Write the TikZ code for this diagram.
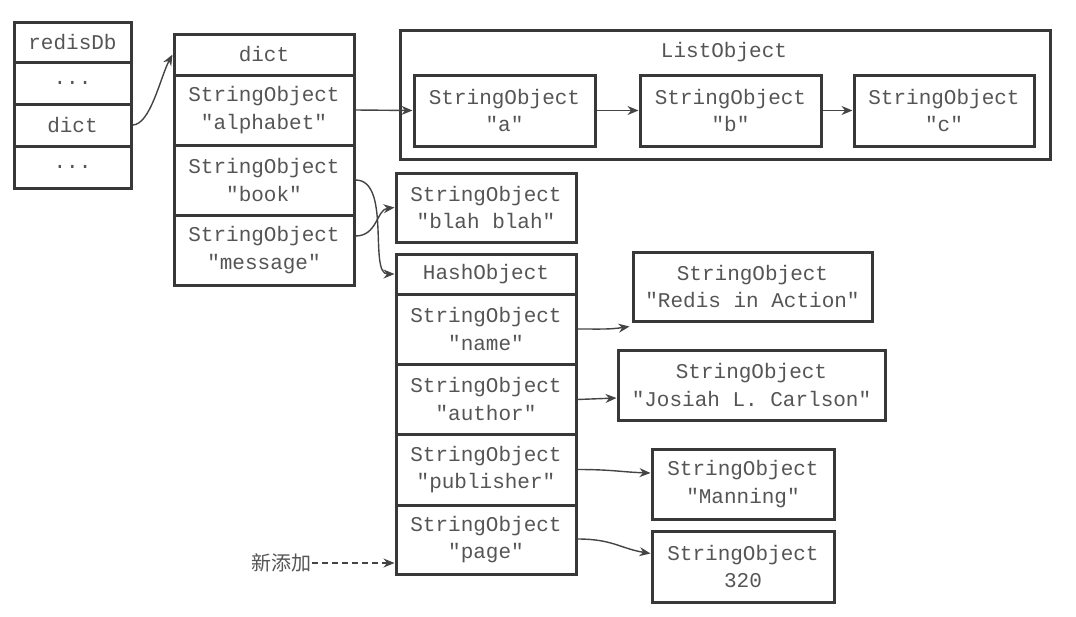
\documentclass[tikz,border=0pt]{standalone}
\usepackage{fontspec}
\newfontfamily\monof{Liberation Mono}
\newfontfamily\cjk{Noto Sans CJK SC}
\usetikzlibrary{arrows.meta,calc}
\definecolor{frame}{HTML}{383838}
\definecolor{txt}{HTML}{555555}
\definecolor{arr}{HTML}{444444}
\tikzset{
  cell/.style={draw=frame, line width=3pt, rectangle, inner sep=0pt, align=center,
    text=txt, font=\monof\fontsize{21}{27.5}\selectfont},
  conn/.style={draw=arr, line width=1.4pt, -{Stealth[length=11pt,width=9pt]}},
}
\newcommand{\cellbox}[6]{% name, x1, y1, x2, y2, text
  \node[cell, minimum width={#4-#2}, minimum height={#5-#3}] (#1) at ({(#2+#4)/2},{(#3+#5)/2}) {#6};}
\begin{document}
\begin{tikzpicture}[x=1pt,y=-1pt]
\useasboundingbox (0,0) rectangle (1076,616);
% redisDb
\cellbox{rd0}{14}{22}{131}{62}{redisDb}
\cellbox{rd1}{14}{62}{131}{104}{...}
\cellbox{rd2}{14}{104}{131}{146}{dict}
\cellbox{rd3}{14}{146}{131}{188}{...}
% dict
\cellbox{dh}{174}{34}{354}{75}{dict}
\cellbox{dalpha}{174}{75}{354}{145}{StringObject\\"alphabet"}
\cellbox{dbook}{174}{145}{354}{215}{StringObject\\"book"}
\cellbox{dmsg}{174}{215}{354}{285}{StringObject\\"message"}
% ListObject
\node[draw=frame, line width=3pt, minimum width=650pt, minimum height=129pt, inner sep=0pt] (list) at (725,94.5) {};
\node[text=txt, font=\monof\fontsize{21}{27.5}\selectfont] (listlbl) at (724,52) {ListObject};
\cellbox{la}{414}{75}{595}{146}{StringObject\\"a"}
\cellbox{lb}{640}{75}{821}{146}{StringObject\\"b"}
\cellbox{lc}{854}{75}{1034}{146}{StringObject\\"c"}
% blah
\cellbox{blah}{396}{173}{576}{242}{StringObject\\"blah blah"}
% hash
\cellbox{hh}{396}{254}{576}{294}{HashObject}
\cellbox{hname}{396}{294}{576}{364}{StringObject\\"name"}
\cellbox{hauthor}{396}{364}{576}{434}{StringObject\\"author"}
\cellbox{hpub}{396}{434}{576}{505}{StringObject\\"publisher"}
\cellbox{hpage}{396}{505}{576}{574}{StringObject\\"page"}
% values
\cellbox{vredis}{633}{252}{872}{321}{StringObject\\"Redis in Action"}
\cellbox{vjosiah}{618}{350}{885}{420}{StringObject\\"Josiah L. Carlson"}
\cellbox{vmanning}{652}{449}{834}{519}{StringObject\\"Manning"}
\cellbox{vpage}{652}{531}{834}{602}{StringObject\\320}
% label
\node[text=txt, font=\cjk\fontsize{20}{24}\selectfont, anchor=east, inner sep=0pt] (newlbl) at (312,563) {新添加};
\coordinate (redisin) at ($(vredis.south west)+(-2,4)$);
% connectors
\draw[conn] (rd2.east) .. controls +(18,0) and +(-12,22) .. (dh.west);
\draw[conn] (dalpha.east) -- (la.west);
\draw[conn] (la.east) -- (lb.west);
\draw[conn] (lb.east) -- (lc.west);
\draw[conn] (dbook.east) .. controls +(36,0) and +(-26,0) .. (hh.west);
\draw[conn] ($(dmsg.east)+(0,-14)$) .. controls +(22,0) and +(-18,2) .. (blah.west);
\draw[conn] (hname.east) .. controls +(25,0) and +(-20,3) .. (redisin);
\draw[conn] ($(hauthor.east)+(0,0.5)$) -- ($(vjosiah.west)+(0,13)$);
\draw[conn] (hpub.east) .. controls +(35,0) and +(-30,-1) .. ($(vmanning.west)+(0,-11)$);
\draw[conn] ($(hpage.east)+(0,-0.5)$) .. controls +(35,0) and +(-30,-5) .. ($(vpage.west)+(0,-13)$);
\draw[conn, dashed, dash pattern=on 6pt off 4pt] (newlbl.east) -- (hpage.west |- newlbl.east);
\end{tikzpicture}
\end{document}
